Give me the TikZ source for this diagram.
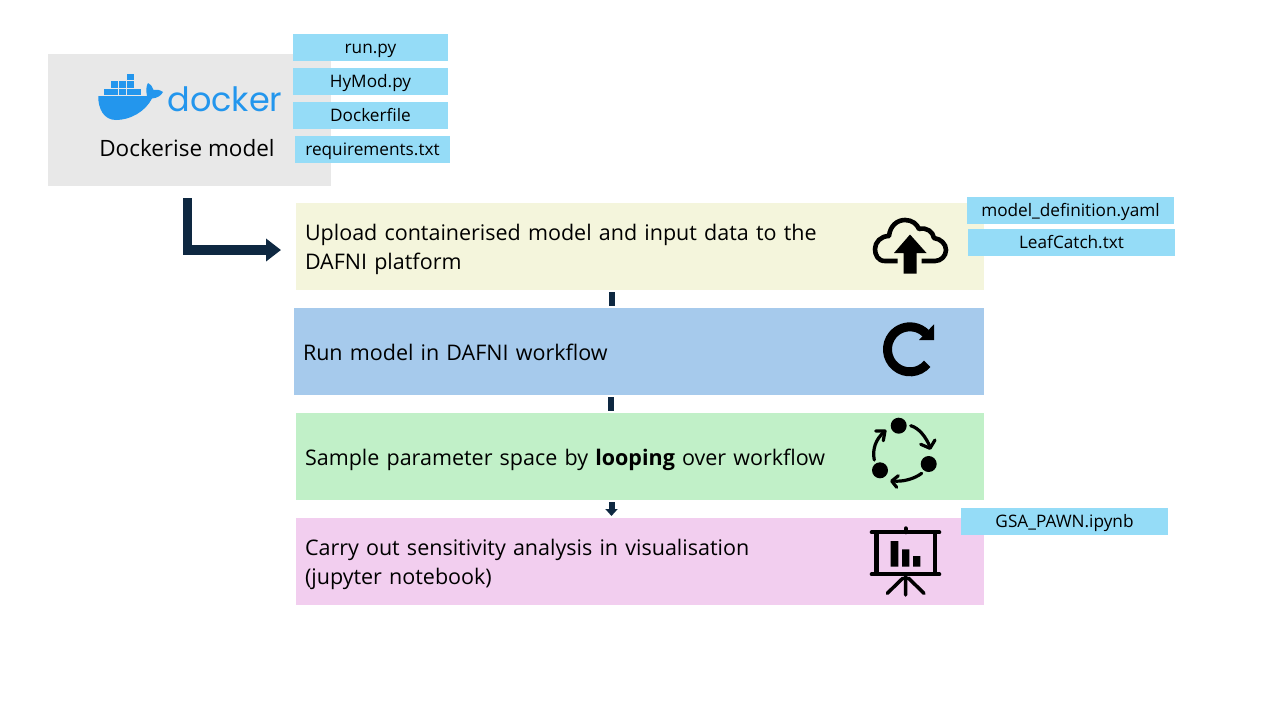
\documentclass[tikz,border=0pt]{standalone}
\usepackage{fontspec}
\usepackage{xcolor}
\setmainfont{Open Sans}
\newfontfamily\logofont{Poppins}
\usetikzlibrary{arrows.meta,positioning}
\definecolor{dockergrey}{HTML}{E8E8E8}
\definecolor{dockerblue}{HTML}{2396ED}
\definecolor{filecyan}{HTML}{95DCF7}
\definecolor{navybar}{HTML}{0E2841}
\definecolor{uploadfill}{HTML}{F4F5DC}
\definecolor{runfill}{HTML}{A6CAEC}
\definecolor{samplefill}{HTML}{C1F0C8}
\definecolor{visfill}{HTML}{F2CEEF}
\newcommand{\stepstrut}{\rule[-5pt]{0pt}{28pt}}
\tikzset{
  stepbox/.style={rectangle, anchor=north west, outer sep=0pt, inner xsep=9pt, inner ysep=0pt, minimum height=87pt,
    align=left, font=\fontsize{21.5}{29}\selectfont},
  filebox/.style={rectangle, anchor=north west, fill=filecyan, outer sep=0pt, inner sep=0pt,
    minimum height=27pt, text height=12pt, text depth=0pt, font=\fontsize{17.2}{20}\selectfont},
  flowbar/.style={navybar, line width=6pt, shorten <=2pt, shorten >=2pt},
  iconline/.style={black, line cap=round, line join=round},
}
\begin{document}
\begin{tikzpicture}[x=1pt, y=-1pt]
\useasboundingbox (0,0) rectangle (1280,720);

\node[rectangle, anchor=north west, fill=dockergrey, outer sep=0pt, minimum width=283pt, minimum height=132pt] (dockerbox) at (48,54) {};
\node[font=\fontsize{22.5}{26}\selectfont] (dockerlabel) at (187,148) {Dockerise model};
\node[dockerblue, font=\logofont\fontsize{33.5}{36}\selectfont, inner sep=0pt] (dockerlogo) at (225,99) {docker};

\node[filebox, minimum width=155pt] (runpy) at (293,34) {run.py};
\node[filebox, minimum width=155pt, below=7pt of runpy.south west, anchor=north west] (hymod) {HyMod.py};
\node[filebox, minimum width=155pt, below=7pt of hymod.south west, anchor=north west] (dockerfile) {Dockerfile};
\node[filebox, minimum width=155pt] (requirements) at (295,136) {requirements.txt};

\node[stepbox, fill=uploadfill, minimum width=688pt, text width=670pt] (upload) at (296,203) {\stepstrut Upload containerised model and input data to the\\DAFNI platform};
\node[stepbox, fill=runfill, minimum width=690pt, text width=672pt] (run) at (294,308) {\stepstrut Run model in DAFNI workflow};
\node[stepbox, fill=samplefill, minimum width=688pt, text width=670pt] (sample) at (296,413) {\stepstrut Sample parameter space by \textbf{looping} over workflow};
\node[stepbox, fill=visfill, minimum width=688pt, text width=670pt] (vis) at (296,518) {\stepstrut Carry out sensitivity analysis in visualisation\\(jupyter notebook)};

\node[filebox, minimum width=207pt] (yaml) at (967,197) {model\_definition.yaml};
\node[filebox, minimum width=207pt] (leaf) at (968,229) {LeafCatch.txt};
\node[filebox, minimum width=207pt] (gsa) at (961,508) {GSA\_PAWN.ipynb};

\coordinate (elbowstart) at ([xshift=-2pt,yshift=-12pt]dockerbox.south);
\coordinate (elbowend) at ([xshift=-15pt,yshift=-3.5pt]upload.west);
\draw[navybar, line width=9.5pt, -{Triangle[length=15pt,width=22pt]}] (elbowstart) |- (elbowend);

\draw[flowbar] ([xshift=-28.5pt]upload.south) -- ([xshift=-28.5pt]upload.south |- run.north);
\draw[flowbar] ([xshift=-28.5pt]run.south) -- ([xshift=-28.5pt]run.south |- sample.north);
\draw[flowbar, -{Triangle[length=7pt,width=12pt]}] ([xshift=-28.5pt]sample.south) -- ([xshift=-28.5pt]sample.south |- vis.north);

% docker whale
\fill[dockerblue] (98.3,96) -- (147,96) .. controls (146,91) and (146,86) .. (148,83) .. controls (151,85) and (153,87) .. (153.5,90) .. controls (156.5,89) and (160,90) .. (163,92) .. controls (161,96) and (157,98) .. (152,98.5) .. controls (145,112) and (130,120) .. (116,120) .. controls (104,120) and (98,109) .. (98.3,96) -- cycle;
\foreach \bx in {103.5,111.2,118.9,126.6,134.3} \fill[dockerblue] (\bx,88.5) rectangle +(7,6.5);
\foreach \bx in {111.2,118.9,126.6} \fill[dockerblue] (\bx,81) rectangle +(7,6.5);
\fill[dockerblue] (126.6,74) rectangle +(7,6);

% cloud icon
\draw[iconline, line width=4.6pt, line cap=butt] (897.7,261) -- (885,261) .. controls (878,261) and (875,255) .. (875,249) .. controls (875,242) and (881,236) .. (889,236) .. controls (890,226) and (897,220) .. (905,220) .. controls (912,220) and (917,224) .. (919,229) .. controls (927,227) and (933,232) .. (934,238) .. controls (941,239) and (946,244) .. (946,250) .. controls (946,256) and (941,261) .. (935,261) -- (921.7,261);
\fill[black] (910,234.5) -- (894,253) -- (903.5,253) -- (903.5,273.5) -- (916.5,273.5) -- (916.5,253) -- (926.5,253) -- cycle;

% refresh icon
\draw[black, line width=9pt] (927.2,363.8) arc[start angle=-40, end angle=-315, radius=22.5pt];
\fill[black] (934,324.3) -- (934,340) -- (919,340) -- cycle;

% loop icon
\fill[black] (898.7,425.7) circle[radius=8pt] (928.7,464) circle[radius=8pt] (880,470.3) circle[radius=8pt];
\draw[iconline, line width=3.2pt] (910.7,425.7) .. controls (919,428) and (926,437) .. (930,447);
\draw[iconline, line width=3.2pt] (920.7,444.3) -- (930,448.3) -- (935,440);
\draw[iconline, line width=3.2pt] (921.7,473.3) .. controls (914,479) and (903,482) .. (893,481);
\draw[iconline, line width=3.2pt] (898.3,475.7) -- (891.7,481) -- (896.7,487.3);
\draw[iconline, line width=3.2pt] (874.3,460) .. controls (872,449) and (876,439) .. (884,432);
\draw[iconline, line width=3.2pt] (875.7,431) -- (885,431) -- (883.3,440.7);

% presentation icon
\draw[iconline, line width=4pt] (871.7,532.3) -- (939.3,532.3) (871.7,574.3) -- (939.3,574.3) (905.7,528.3) -- (905.7,532.3);
\draw[iconline, line width=4.5pt, line cap=butt] (876.7,532.3) -- (876.7,574.3) (935,532.3) -- (935,574.3);
\draw[iconline, line width=3.5pt] (905.7,576) -- (905.7,595) (903,578) -- (887.3,593.3) (908.3,578) -- (924,593.3);
\fill[black] (890.7,541) rectangle (898.3,566.7) (902,549.3) rectangle (909.3,566.7) (913,556) rectangle (920.3,566.7);
\end{tikzpicture}
\end{document}
